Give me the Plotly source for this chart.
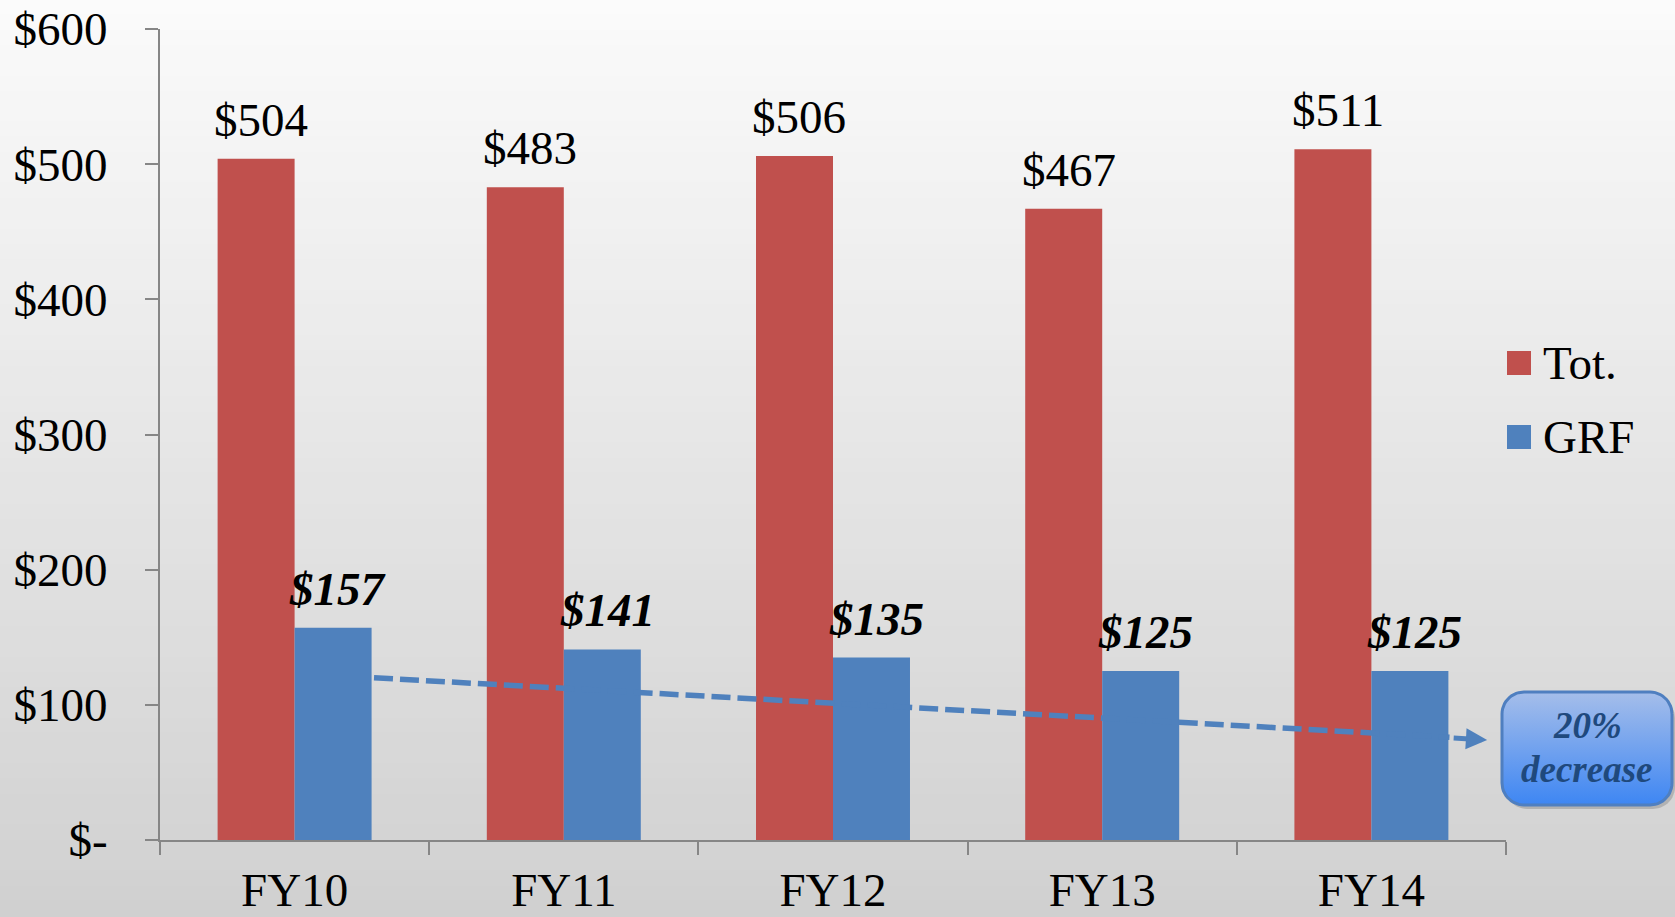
import numpy as np
import plotly.graph_objects as go

# ---------------- data ----------------
categories = ["FY10", "FY11", "FY12", "FY13", "FY14"]
tot_values = [504, 483, 506, 467, 511]
grf_values = [157, 141, 135, 125, 125]
series_names = ["Tot.", "GRF"]
y_tick_values = [0, 100, 200, 300, 400, 500, 600]
y_tick_labels = ["$-", "$100", "$200", "$300", "$400", "$500", "$600"]
callout_lines = ["20%", "decrease"]

# ---------------- style ----------------
W, H = 1675, 917
RED = "#C0504D"
BLUE = "#4F81BD"
AXIS = "#868686"
FONT = "Liberation Serif"
FS = 47
BARGAP = 0.428

fig = go.Figure()

fig.add_trace(go.Bar(
    x=categories, y=tot_values, name=series_names[0],
    marker=dict(color=RED, line_width=0),
    showlegend=False, hoverinfo="skip",
))
fig.add_trace(go.Bar(
    x=categories, y=grf_values, name=series_names[1],
    marker=dict(color=BLUE, line_width=0),
    showlegend=False, hoverinfo="skip",
))

# ---------------- callout box (pixel overlay subplot) ----------------
def rounded_rect(x0, y0, x1, y1, r, n=14):
    xs, ys = [], []
    corners = [(x1 - r, y1 - r, 0, 90), (x0 + r, y1 - r, 90, 180),
               (x0 + r, y0 + r, 180, 270), (x1 - r, y0 + r, 270, 360)]
    for cx, cy, a0, a1 in corners:
        t = np.radians(np.linspace(a0, a1, n))
        xs.extend(cx + r * np.cos(t))
        ys.extend(cy + r * np.sin(t))
    xs.append(xs[0]); ys.append(ys[0])
    return xs, ys

bx0, bx1, by_top, by_bot = 1502, 1672, 692, 805
sx, sy = rounded_rect(bx0 + 3, H - by_bot - 4, bx1 + 3, H - by_top - 4, 22)
fig.add_trace(go.Scatter(x=sx, y=sy, mode="lines", fill="toself",
                         fillcolor="rgba(0,0,0,0.16)", line=dict(width=0),
                         xaxis="x2", yaxis="y2", showlegend=False, hoverinfo="skip"))
cx_, cy_ = rounded_rect(bx0, H - by_bot, bx1, H - by_top, 22)
fig.add_trace(go.Scatter(x=cx_, y=cy_, mode="lines", fill="toself",
                         fillgradient=dict(type="vertical",
                                           colorscale=[[0, "#3E86F3"], [1, "#A5BEEA"]]),
                         line=dict(color="#4F7FC0", width=3),
                         xaxis="x2", yaxis="y2", showlegend=False, hoverinfo="skip"))

shapes = []
# background gradient
nb = 60
for i in range(nb):
    t = (i + 0.5) / nb
    c = int(round(251 - (251 - 208) * t))
    shapes.append(dict(type="rect", xref="paper", yref="paper", x0=0, x1=1,
                       y0=1 - (i + 1) / nb, y1=1 - i / nb + 0.001,
                       fillcolor=f"rgb({c},{c},{c})", line_width=0, layer="below"))

# dashed trend line (data coords: category index, value)
trend_start = (0.295, 120)
trend_end = (4.29, 76)
shapes.append(dict(type="line", xref="x", yref="y",
                   x0=trend_start[0], y0=trend_start[1], x1=trend_end[0], y1=trend_end[1],
                   line=dict(color=BLUE, width=5.5, dash="19px,7px"), layer="above"))

# legend squares (pixel overlay)
legend_rows = [(series_names[0], RED, 363), (series_names[1], BLUE, 437)]
for name, col, yc in legend_rows:
    shapes.append(dict(type="rect", xref="x2", yref="y2", x0=1507, x1=1531,
                       y0=H - yc - 12, y1=H - yc + 12, fillcolor=col, line_width=0))

annotations = []
# value labels above bars
half = (1 - BARGAP) / 4
for i, v in enumerate(tot_values):
    annotations.append(dict(x=i - half + 0.018, y=v, xref="x", yref="y", text=f"${v}",
                            showarrow=False, xanchor="center", yanchor="bottom", yshift=11,
                            font=dict(family=FONT, size=FS, color="black")))
for i, v in enumerate(grf_values):
    annotations.append(dict(x=i + half + 0.018, y=v, xref="x", yref="y", text=f"${v}",
                            showarrow=False, xanchor="center", yanchor="bottom", yshift=11,
                            font=dict(family=FONT, size=FS, color="black",
                                      style="italic", weight="bold")))
# arrow head
annotations.append(dict(x=4.43, y=74, ax=4.30, ay=75.5, xref="x", yref="y",
                        axref="x", ayref="y", text="", showarrow=True,
                        arrowhead=2, arrowsize=0.85, arrowwidth=5, arrowcolor=BLUE))
for name, col, yc in legend_rows:
    annotations.append(dict(x=1541, y=H - yc, xref="x2", yref="y2", text=name,
                            showarrow=False, xanchor="left", yanchor="middle",
                            font=dict(family=FONT, size=FS, color="black")))
callout_font = dict(family=FONT, size=37, color="#1F497D", style="italic", weight="bold")
annotations.append(dict(x=1587, y=H - 725, xref="x2", yref="y2", text=callout_lines[0],
                        showarrow=False, xanchor="center", yanchor="middle", font=callout_font))
annotations.append(dict(x=1587, y=H - 769, xref="x2", yref="y2", text=callout_lines[1],
                        showarrow=False, xanchor="center", yanchor="middle", font=callout_font))

fig.update_layout(
    width=W, height=H, autosize=False,
    margin=dict(l=0, r=0, t=0, b=0, pad=0, autoexpand=False),
    paper_bgcolor="#e6e6e6", plot_bgcolor="rgba(0,0,0,0)",
    barmode="group", bargap=BARGAP, bargroupgap=0,
    font=dict(family=FONT, size=FS, color="black"),
    xaxis=dict(domain=[160 / W, 1506 / W], range=[-0.5, 4.5], type="category",
               showline=True, linecolor=AXIS, linewidth=2, showgrid=False, zeroline=False,
               ticks="outside", tickson="boundaries", ticklen=13, tickwidth=2, tickcolor=AXIS,
               tickfont=dict(family=FONT, size=FS, color="black"), ticklabelstandoff=8,
               automargin=False, fixedrange=True),
    yaxis=dict(domain=[1 - 840 / H, 1 - 29 / H], range=[0, 600],
               tickvals=y_tick_values, ticktext=y_tick_labels,
               showline=True, linecolor=AXIS, linewidth=2, showgrid=False, zeroline=False,
               ticks="outside", ticklen=13, tickwidth=2, tickcolor=AXIS,
               tickfont=dict(family=FONT, size=FS, color="black"), ticklabelstandoff=28,
               automargin=False, fixedrange=True),
    xaxis2=dict(domain=[0, 1], range=[0, W], visible=False, anchor="y2",
                automargin=False, fixedrange=True),
    yaxis2=dict(domain=[0, 1], range=[0, H], visible=False, anchor="x2",
                automargin=False, fixedrange=True),
    shapes=shapes, annotations=annotations, showlegend=False,
)

fig.write_html("out.html", config={"displayModeBar": False},
               post_script="document.body.style.margin='0';")
